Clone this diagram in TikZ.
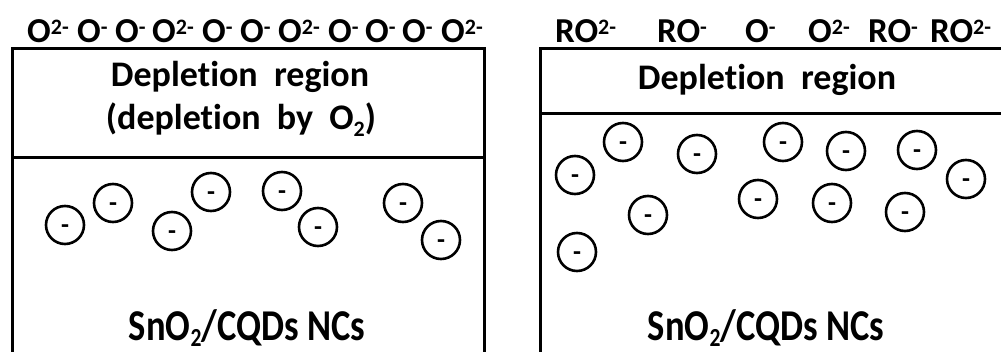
\documentclass[tikz,border=0pt]{standalone}
\usepackage{fontspec}
\setmainfont{Carlito}[Ligatures=CommonOff]
% raised and lowered small figures for ion charges and formulas
\newcommand\supx[1]{\raisebox{8pt}{\fontsize{22}{22}\selectfont #1}}
\newcommand\subx[1]{\raisebox{-7pt}{\fontsize{22}{22}\selectfont #1}}
\newcommand\subb[1]{\raisebox{-6pt}{\fontsize{26}{26}\selectfont #1}}
% charge sign set on the centre line of its circle
\newcommand\charge{\raisebox{-5pt}{-}}

\begin{document}
\begin{tikzpicture}[x=1pt,y=-1pt,
  wall/.style={line width=3pt},
  ion/.style={font=\bfseries\fontsize{35}{42}\selectfont, anchor=base west, inner sep=0pt},
  title/.style={font=\bfseries\fontsize{36}{43}\selectfont, anchor=base, inner sep=0pt},
  bulk/.style={font=\bfseries\fontsize{44}{50}\selectfont, anchor=base, inner sep=0pt},
  electron/.style={circle, draw, line width=2.6pt, minimum size=38pt, inner sep=0pt,
    font=\bfseries\fontsize{26}{26}\selectfont, text height=8pt, text depth=0pt}]
\useasboundingbox (0,0) rectangle (1001,352);
\clip (0,0) rectangle (1001,352);

% left sensor: box and layers
\draw[wall] (12,360) -- (12,49) -- (484,49) -- (484,360);
\draw[wall] (12,158) -- (484,158);
% right sensor: box and layers
\draw[wall] (540,360) -- (540,49) -- (1010,49);
\draw[wall] (540,114) -- (1010,114);

% adsorbed oxygen species, left
\node[ion] (a1)  at (27,43)  {O\supx{2-}};
\node[ion] (a2)  at (77,43)  {O\supx{-}};
\node[ion] (a3)  at (115,43) {O\supx{-}};
\node[ion] (a4)  at (152,43) {O\supx{2-}};
\node[ion] (a5)  at (202,43) {O\supx{-}};
\node[ion] (a6)  at (240,43) {O\supx{-}};
\node[ion] (a7)  at (278,43) {O\supx{2-}};
\node[ion] (a8)  at (328,43) {O\supx{-}};
\node[ion] (a9)  at (365,43) {O\supx{-}};
\node[ion] (a10) at (402,43) {O\supx{-}};
\node[ion] (a11) at (441,43) {O\supx{2-}};

% surface species after reaction, right
\node[ion] (b1) at (555,43) {RO\supx{2-}};
\node[ion] (b2) at (657,43) {RO\supx{-}};
\node[ion] (b3) at (745,43) {O\supx{-}};
\node[ion] (b4) at (808,43) {O\supx{2-}};
\node[ion] (b5) at (868,43) {RO\supx{-}};
\node[ion] (b6) at (930,43) {RO\supx{2-}};

% layer labels
\node[title] (dl1) at (240,87)  {Depletion~~region};
\node[title] (dl2) at (241,130) {(depletion~~by~~O\subx{2})};
\node[title] (dr)  at (767,90)  {Depletion~~region};
\node[bulk] (nl) at (247,341) {\scalebox{0.83}[1]{SnO\subb{2}/CQDs NCs}};
\node[bulk] (nr) at (766,341) {\scalebox{0.83}[1]{SnO\subb{2}/CQDs NCs}};

% free electrons, left
\node[electron] (l1) at (65,225)  {\charge};
\node[electron] (l2) at (113,203) {\charge};
\node[electron] (l3) at (172,231) {\charge};
\node[electron] (l4) at (211,192) {\charge};
\node[electron] (l5) at (282,191) {\charge};
\node[electron] (l6) at (318,227) {\charge};
\node[electron] (l7) at (403,203) {\charge};
\node[electron] (l8) at (441,240) {\charge};

% free electrons, right
\node[electron] (r1)  at (575,175) {\charge};
\node[electron] (r2)  at (623,142) {\charge};
\node[electron] (r3)  at (697,154) {\charge};
\node[electron] (r4)  at (783,142) {\charge};
\node[electron] (r5)  at (846,151) {\charge};
\node[electron] (r6)  at (917,150) {\charge};
\node[electron] (r7)  at (966,179) {\charge};
\node[electron] (r8)  at (648,215) {\charge};
\node[electron] (r9)  at (758,199) {\charge};
\node[electron] (r10) at (832,203) {\charge};
\node[electron] (r11) at (905,212) {\charge};
\node[electron] (r12) at (577,252) {\charge};
\end{tikzpicture}
\end{document}
